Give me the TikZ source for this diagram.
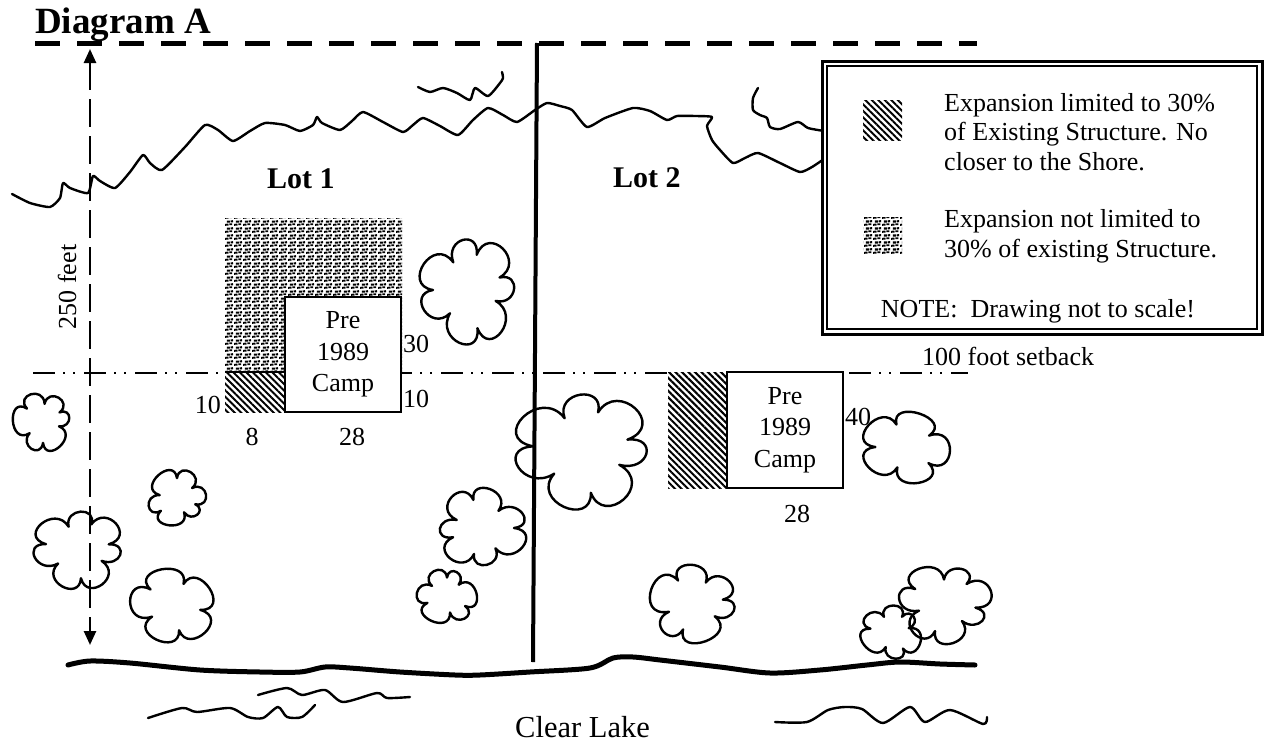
\documentclass[tikz,border=0pt]{standalone}
\usepackage{fontspec}
\setmainfont{Liberation Serif}
\usetikzlibrary{arrows.meta,patterns,patterns.meta}

\tikzdeclarepattern{
  name=stipple,
  type=uncolored,
  bounding box={(0pt,0pt) and (9pt,7pt)},
  tile size={(9pt,7pt)},
  code={
    \fill (0.2pt,0.2pt) -- (4pt,0.6pt) -- (3.7pt,2.7pt) -- (0pt,2.4pt) -- cycle;
    \fill (4.8pt,0.9pt) rectangle (8pt,3pt);
    \fill (2pt,3.8pt) rectangle (5.4pt,6.2pt);
    \fill (6.3pt,4pt) -- (9pt,4.3pt) -- (8.8pt,6.6pt) -- (6.1pt,6.3pt) -- cycle;
  }
}

\tikzset{
  treeline/.style={line width=2.4pt, line join=round, line cap=round},
  shoreline/.style={line width=2.4pt, line join=round, line cap=round},
  bigshore/.style={line width=5pt, line join=round, line cap=round},
  lbl/.style={font=\fontsize{26}{31}\selectfont, inner sep=0pt},
  lotlbl/.style={font=\bfseries\fontsize{30}{36}\selectfont, inner sep=0pt},
  campbox/.style={draw, line width=2pt, fill=white, minimum width=116pt,
    minimum height=115pt, inner sep=0pt, align=center,
    font=\fontsize{26}{31.5}\selectfont},
  hatchfill/.style={pattern={Lines[angle=-45,distance=4.6pt,line width=2pt]}, pattern color=black},
  stipfill/.style={pattern=stipple, pattern color=black},
  dimline/.style={line width=2.5pt, dash pattern=on 28pt off 9pt,
    {Triangle[length=14pt,width=12pt]}-{Triangle[length=14pt,width=12pt]}},
  topdash/.style={line width=5pt, dash pattern=on 25pt off 17pt},
  setback/.style={line width=2.5pt, dash pattern=on 22pt off 8pt on 2pt off 8pt on 2pt off 9pt},
  treeA/.pic={\draw[treeline] (0:22) .. controls +(8:16) and +(37:16) .. (45:19)
      .. controls +(53:26) and +(112:26) .. (120:24)
      .. controls +(128:19) and +(162:19) .. (170:20)
      .. controls +(178:28) and +(242:28) .. (250:24)
      .. controls +(258:21) and +(297:21) .. (305:21)
      .. controls +(313:20) and +(352:20) .. (360:22);},
  treeB/.pic={\draw[treeline] (10:20) .. controls +(18:24) and +(72:24) .. (80:22)
      .. controls +(88:24) and +(142:24) .. (150:19)
      .. controls +(158:24) and +(212:24) .. (220:23)
      .. controls +(228:24) and +(282:24) .. (290:21)
      .. controls +(298:24) and +(362:24) .. (370:20);},
  treeC/.pic={\draw[treeline] (0:24) .. controls +(8:16) and +(32:16) .. (40:21)
      .. controls +(48:22) and +(87:22) .. (95:26)
      .. controls +(103:21) and +(142:21) .. (150:20)
      .. controls +(158:19) and +(192:19) .. (200:25)
      .. controls +(208:23) and +(252:23) .. (260:21)
      .. controls +(268:17) and +(297:17) .. (305:24)
      .. controls +(313:22) and +(352:22) .. (360:24);},
}

\begin{document}
\begin{tikzpicture}[x=1pt,y=-1pt]
\useasboundingbox (0,0) rectangle (1264,744);

% title
\node[anchor=base west, inner sep=0pt, font=\bfseries\fontsize{37}{42}\selectfont] (title) at (35,33) {Diagram A};

% top dashed property line
\coordinate (tl) at (35,43);
\coordinate (tr) at (977,43);
\draw[topdash] (tl) -- (tr);

% upper shoreline
\draw[shoreline] plot[smooth, tension=0.35] coordinates {
 (12,194) (30,203) (50,207) (60,198) (63,183) (70,188) (88,193) (93,176) (100,181) (115,188)
 (130,172) (143,155) (150,163) (162,170) (185,147) (205,125) (218,130) (233,141) (250,131)
 (265,123) (285,125) (300,131) (313,125) (317,117) (322,123) (340,130) (352,121) (363,112)
 (383,122) (403,132) (413,125) (423,118) (440,126) (458,135) (473,120) (488,108) (503,115)
 (517,122) (535,110) (547,103) (560,106) (572,110) (587,127) (605,118) (633,108) (650,111)
 (667,120) (677,116) (695,116) (712,117) (707,126) (712,140) (720,150) (733,163) (745,158)
 (758,153) (780,163) (800,172) (812,167) (824,159)};
% small waves near shore
\draw[shoreline] plot[smooth, tension=0.4] coordinates {
 (418,87) (430,92) (443,88) (457,93) (470,100) (475,88) (488,96) (500,83) (503,78) (502,72)};
\draw[shoreline] plot[smooth, tension=0.4] coordinates {
 (758,88) (753,98) (753,110) (760,115) (767,118) (770,127) (780,129) (798,122) (808,128) (824,131)};

% 100 foot setback line
\coordinate (sb1) at (33,373);
\coordinate (sb2) at (968,373);
\draw[setback] (sb1) -- (sb2);

% lot divider
\coordinate (dv1) at (537,43);
\coordinate (dv2) at (533,662);
\draw[line width=4pt] (dv1) -- (dv2);

% dimension line
\coordinate (dimtop) at (90,49);
\coordinate (dimbot) at (90,645);
\draw[dimline] (dimtop) -- (dimbot);
\node[lbl, rotate=90] (feet) at (67,287) {250 feet};

% Lot 1 building
\fill[stipfill] (225,218) rectangle (402,372);
\fill[white] (225,372) rectangle (285,412);
\fill[hatchfill] (225,372) rectangle (285,412);
\draw[line width=2pt] (225,372) -- (285,372);
\node[campbox] (camp1) at (343,354.5) {Pre\\1989\\Camp};
\node[lbl, anchor=base west] (n30) at (403,352) {30};
\node[lbl, anchor=base west] (n10r) at (403,407) {10};
\node[lbl, anchor=base east] (n10l) at (221,413) {10};
\node[lbl, anchor=base] (n8) at (252,445) {8};
\node[lbl, anchor=base] (n28a) at (352,445) {28};

% Lot 2 building
\fill[white] (668,372) rectangle (727,488);
\fill[hatchfill] (668,372) rectangle (727,488);
\node[campbox, minimum height=116pt] (camp2) at (785,430) {Pre\\1989\\Camp};
\node[lbl, anchor=base west] (n40) at (845,425) {40};
\node[lbl, anchor=base] (n28b) at (797,522) {28};

% lot labels
\node[lotlbl, anchor=base west] (lot1) at (267,188) {Lot 1};
\node[lotlbl, anchor=base west] (lot2) at (613,187) {Lot 2};
\node[lbl, anchor=base west] (setbacklbl) at (922,365) {100 foot setback};

% trees
\pic[xscale=1.40, yscale=1.52, rotate=20] at (468,290) {treeC};
\pic[scale=0.87, rotate=30] at (43,422) {treeA};
\pic[xscale=0.88, yscale=0.83, rotate=-20] at (177,498) {treeA};
\pic[xscale=1.30, yscale=1.13, rotate=10] at (78,549) {treeC};
\pic[xscale=1.33, yscale=1.12] at (174,606) {treeB};
\pic[xscale=1.28, yscale=1.12, rotate=200] at (482,528) {treeC};
\pic[xscale=0.87, yscale=0.84, rotate=90] at (447,596) {treeA};
\pic[xscale=1.96, yscale=1.67, rotate=15] at (582,450) {treeC};
\pic[xscale=1.33, yscale=1.14, rotate=40] at (906,447) {treeB};
\pic[xscale=1.33, yscale=1.13, rotate=10] at (694,604) {treeA};
\pic[xscale=1.33, yscale=1.12, rotate=-10] at (944,603) {treeC};
\pic[xscale=0.91, yscale=0.80, rotate=60] at (892,632) {treeA};

% lake shore
\draw[bigshore] plot[smooth, tension=0.5] coordinates {
 (68,665) (90,661) (130,663) (200,670) (260,672) (300,672) (325,667) (350,668) (400,672)
 (455,675) (480,675) (530,672) (590,668) (613,658) (633,657) (660,660) (720,667) (770,673)
 (820,670) (867,665) (900,662) (940,664) (975,665)};
% lake waves
\draw[shoreline] plot[smooth, tension=0.45] coordinates {
 (258,695) (287,688) (302,695) (325,690) (343,702) (377,693) (387,698) (410,697)};
\draw[shoreline] plot[smooth, tension=0.45] coordinates {
 (148,718) (182,708) (197,712) (230,708) (248,717) (263,718) (278,707) (287,717) (302,717) (315,705)};
\draw[shoreline] plot[smooth, tension=0.45] coordinates {
 (775,722) (807,722) (828,710) (845,707) (862,709) (883,723) (910,707) (925,722) (950,710) (983,724) (987,717)};
\node[anchor=base west, inner sep=0pt, font=\fontsize{30.5}{36}\selectfont] (lake) at (515,737) {Clear Lake};

% legend
\draw[line width=3pt, fill=white] (822,61) rectangle (1262,334);
\draw[line width=1.5pt] (827,66) rectangle (1257,329);
\fill[hatchfill] (863,100) rectangle (902,140);
\fill[stipfill] (863,217) rectangle (902,253);
\node[lbl, anchor=base west] (lg1) at (944,111) {Expansion limited to 30\%};
\node[lbl, anchor=base west] (lg2) at (944,140) {of Existing Structure. No};
\node[lbl, anchor=base west] (lg3) at (944,170) {closer to the Shore.};
\node[lbl, anchor=base west] (lg4) at (944,227) {Expansion not limited to};
\node[lbl, anchor=base west] (lg5) at (944,257) {30\% of existing Structure.};
\node[lbl, anchor=base] (note) at (1038,317) {NOTE:\ \ Drawing not to scale!};
\end{tikzpicture}
\end{document}
